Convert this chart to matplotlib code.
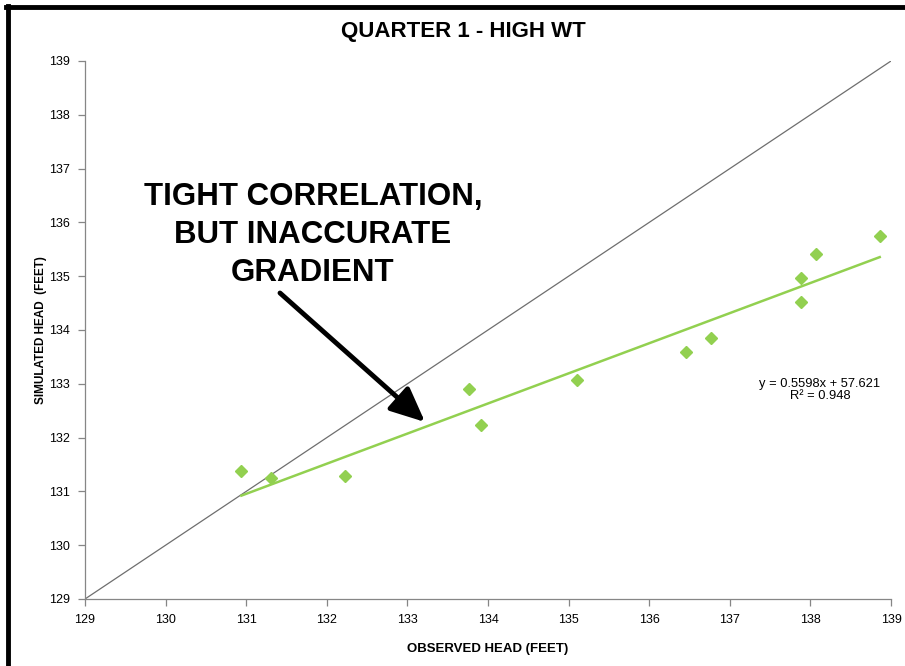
import numpy as np
import matplotlib
matplotlib.use('Agg')
import matplotlib.pyplot as plt
from matplotlib.lines import Line2D

plt.rcParams['font.family'] = ['Liberation Sans', 'DejaVu Sans']

# observed vs simulated heads
observed = [130.94, 131.31, 132.23, 133.76, 133.91, 135.10, 136.46, 136.77, 137.88, 137.88, 138.07, 138.86]
simulated = [131.38, 131.25, 131.29, 132.90, 132.23, 133.07, 133.59, 133.85, 134.52, 134.97, 135.41, 135.75]
# trendline as reported on the chart
slope = 0.5598
intercept = 57.621
r2 = 0.948
ticks = list(range(129, 140))

green = '#92D050'
gray = '#868686'

fig = plt.figure(figsize=(9.05, 6.66), dpi=100)
ax = fig.add_axes([85/905, 67/666, 806/905, 538/666])

# 1:1 line
ax.plot([ticks[0], ticks[-1]], [ticks[0], ticks[-1]], color='#6e6e6e', lw=0.9, zorder=2)

# linear trend over data range
xt = np.array([min(observed), max(observed)])
ax.plot(xt, slope*xt + intercept, color=green, lw=1.8, zorder=3)

ax.plot(observed, simulated, linestyle='none', marker='D', ms=6, color=green,
        markeredgecolor=green, zorder=4)

ax.set_xlim(ticks[0], ticks[-1])
ax.set_ylim(ticks[0], ticks[-1])
ax.set_xticks(ticks)
ax.set_yticks(ticks)
ax.tick_params(direction='out', length=5, width=0.9, color=gray, labelsize=9, pad=6)
for s in ['top', 'right']:
    ax.spines[s].set_visible(False)
for s in ['left', 'bottom']:
    ax.spines[s].set_color(gray)
    ax.spines[s].set_linewidth(0.9)

ax.set_xlabel('OBSERVED HEAD (FEET)', fontsize=9.5, fontweight='bold', labelpad=12)
ax.set_ylabel('SIMULATED HEAD  (FEET)', fontsize=8.5, fontweight='bold', labelpad=1)
fig.text(463/905, 1 - 32/666, 'QUARTER 1 - HIGH WT', ha='center', va='center',
         fontsize=16, fontweight='bold')

ax.text(820/905, 1 - 390/666,
        'y = %.4fx + %.3f\nR² = %.3f' % (slope, intercept, r2),
        transform=fig.transFigure, ha='center', va='center', fontsize=9.3, linespacing=1.0)

# callout
fig.text(313/905, 1 - 235/666, 'TIGHT CORRELATION,\nBUT INACCURATE\nGRADIENT',
         ha='center', va='center', fontsize=22.5, fontweight='bold', linespacing=1.33)
ax.annotate('', xy=(425, 666 - 422), xytext=(280, 666 - 293),
            xycoords='figure pixels', textcoords='figure pixels',
            arrowprops=dict(arrowstyle='-|>,head_length=2.1,head_width=0.95',
                            color='black', lw=3.5, shrinkA=0, shrinkB=0))

# frame edges (left and top only, as cropped)
fig.add_artist(Line2D([8/905, 8/905], [0, 1 - 6/666], transform=fig.transFigure,
                      color='black', lw=3.5))
fig.add_artist(Line2D([6/905, 1], [1 - 7/666, 1 - 7/666], transform=fig.transFigure,
                      color='black', lw=3.5))

fig.savefig('out.png', dpi=100)
